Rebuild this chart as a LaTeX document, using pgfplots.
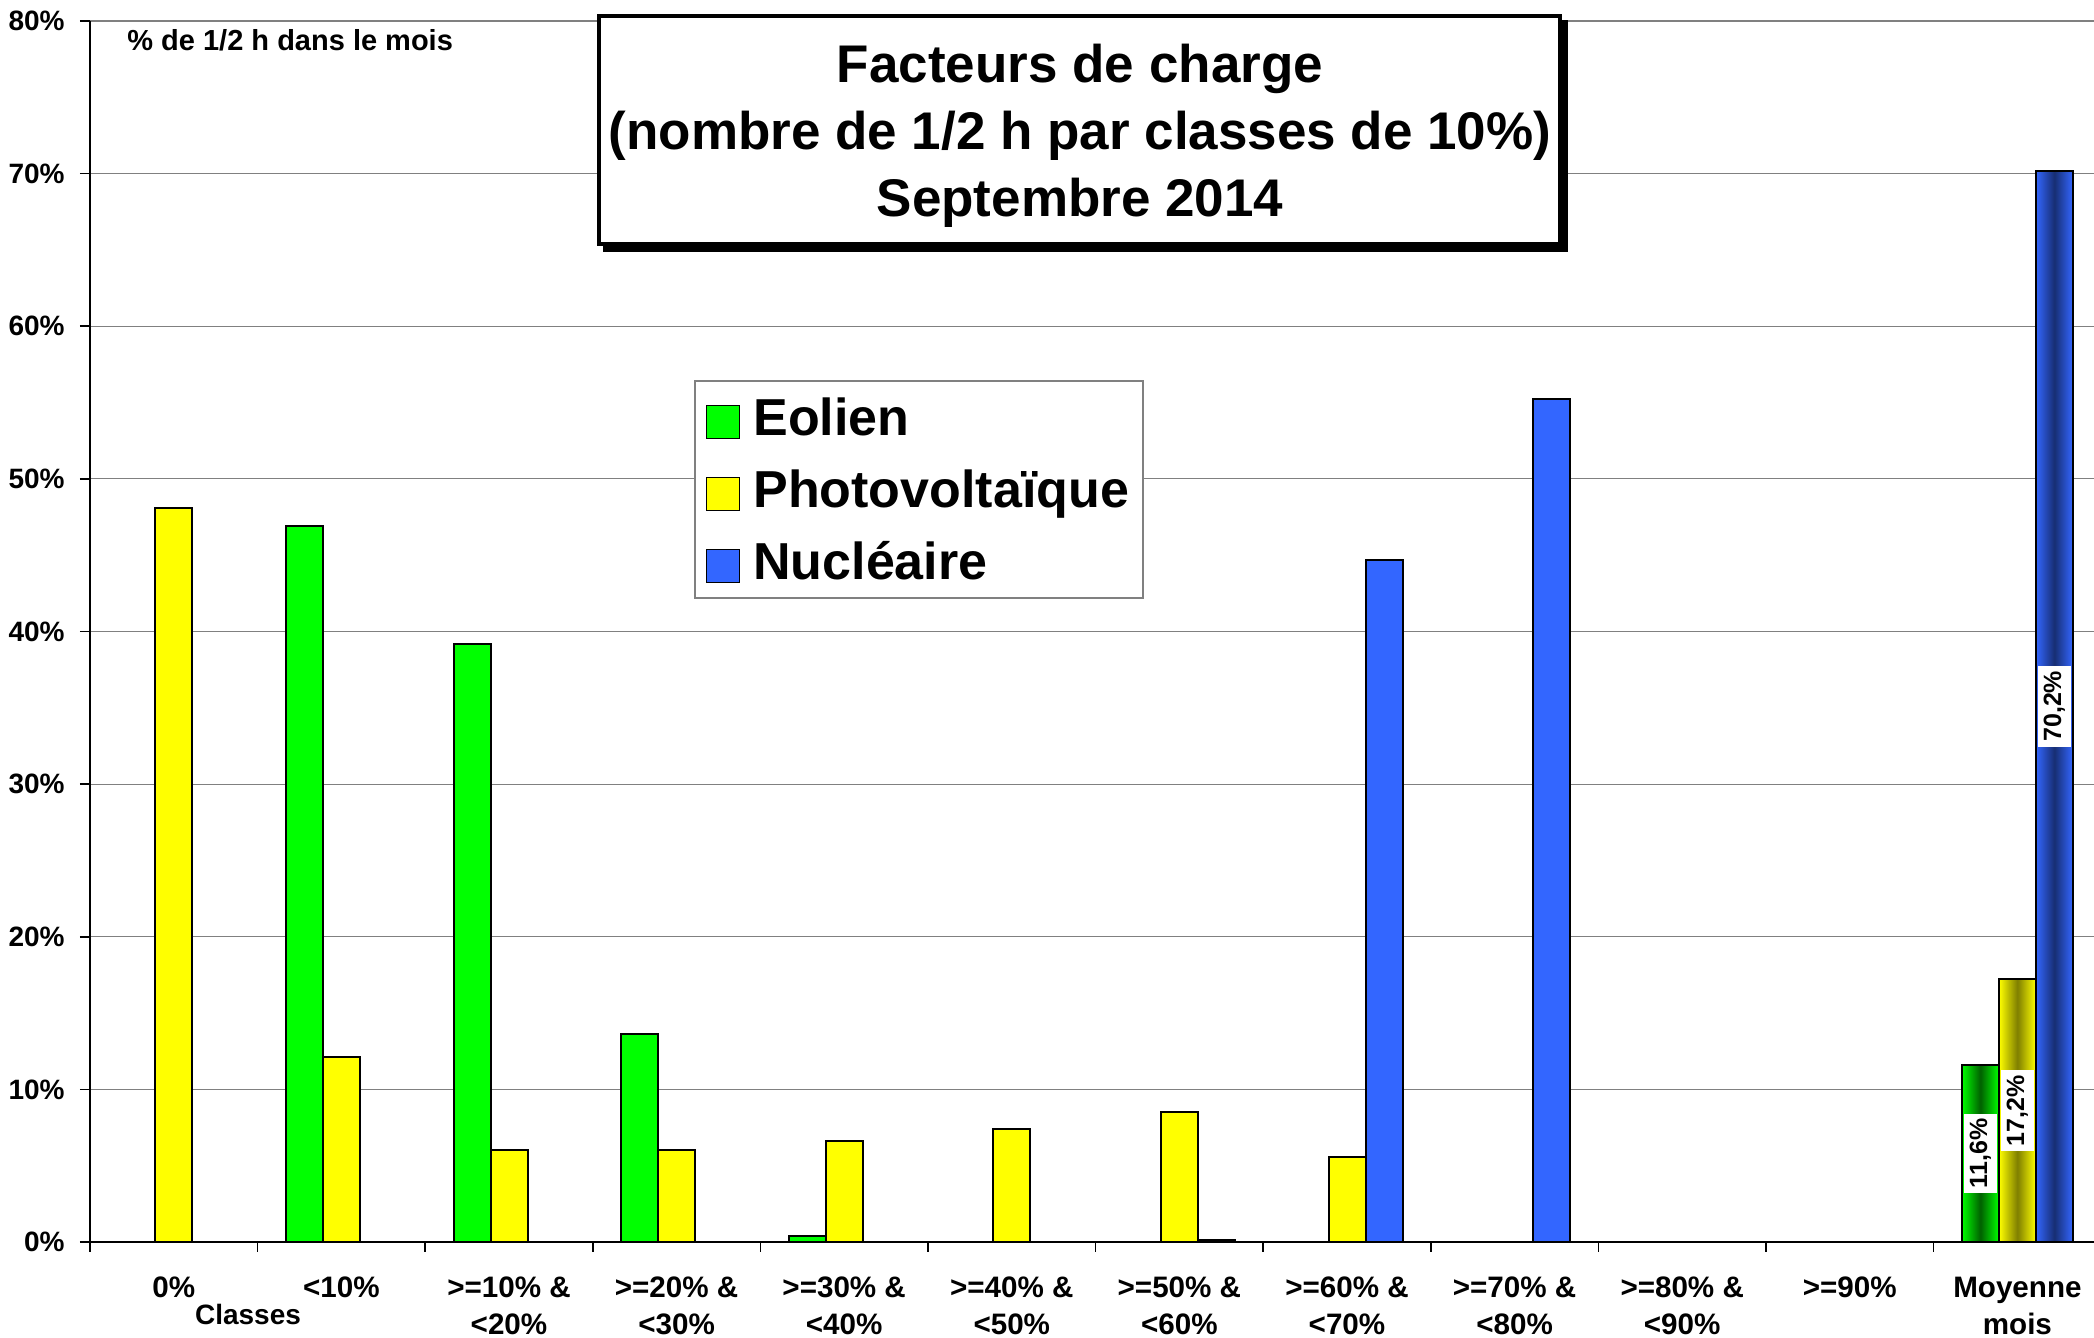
\documentclass[border=0pt]{standalone}
\usepackage{pgfplots}
\pgfplotsset{compat=1.18}
\usepackage{fontspec}
\setmainfont{Liberation Sans}
\definecolor{eol}{HTML}{00FF00}
\definecolor{pv}{HTML}{FFFF00}
\definecolor{nuc}{HTML}{3366FF}
\definecolor{gridc}{HTML}{808080}
\pgfplotsset{
  mybar/.style={ybar, bar width=18.5pt, draw=black, line width=1pt,
    /pgfplots/legend image code/.code={\draw[##1,/tikz/.cd,line width=0.8pt] (0pt,-10.7pt) rectangle (16.5pt,5.8pt);}},
}
\begin{document}
\begin{tikzpicture}
\begin{axis}[
  scale only axis, width=1005.6pt, height=610.5pt,
  xmin=-0.5, xmax=11.5, ymin=0, ymax=80,
  clip=false,
  axis lines*=left,
  axis line style={-, line width=0.8pt, black},
  tick align=outside, major tick length=5pt,
  tick style={black, line width=0.8pt},
  xtick={-0.5,0.5,1.5,2.5,3.5,4.5,5.5,6.5,7.5,8.5,9.5,10.5,11.5},
  x tick label as interval,
  xticklabels={0\%,<10\%,{>=10\% \&\\<20\%},{>=20\% \&\\<30\%},{>=30\% \&\\<40\%},{>=40\% \&\\<50\%},{>=50\% \&\\<60\%},{>=60\% \&\\<70\%},{>=70\% \&\\<80\%},{>=80\% \&\\<90\%},>=90\%,{Moyenne\\mois}},
  xticklabel style={align=center, anchor=north, inner sep=0pt, font=\fontsize{14.8}{18.5}\selectfont\bfseries, yshift=-12.3pt},
  ytick={0,10,20,30,40,50,60,70,80},
  yticklabels={0\%,10\%,20\%,30\%,40\%,50\%,60\%,70\%,80\%},
  yticklabel style={anchor=east, inner sep=0pt, font=\fontsize{14}{16}\selectfont\bfseries, xshift=-7.5pt},
  ymajorgrids, major grid style={gridc, line width=0.6pt},
  legend style={
    at={(rel axis cs:0.3003,0.7060)}, anchor=north west,
    draw=gridc, line width=0.8pt, fill=white,
    inner xsep=5.5pt, inner ysep=2pt,
    font=\fontsize{26}{30}\selectfont\bfseries,
    nodes={inner sep=1.5pt, text height=24pt, text depth=5.5pt},
    row sep=3.5pt,
    /tikz/every odd column/.append style={column sep=5pt},
  },
  legend cell align=left,
]
\coordinate (O) at (rel axis cs:0,0);
% Eolien
\addplot[mybar, fill=eol, bar shift=-18.5pt] coordinates {(1,46.9) (2,39.2) (3,13.6) (4,0.4)};
% Photovoltaique
\addplot[mybar, fill=pv, bar shift=0pt] coordinates {(0,48.1) (1,12.1) (2,6.0) (3,6.0) (4,6.6) (5,7.4) (6,8.5) (7,5.6)};
% Nucleaire
\addplot[mybar, fill=nuc, bar shift=18.5pt] coordinates {(6,0.1) (7,44.7) (8,55.2)};
\legend{Eolien,Photovoltaïque,Nucléaire}
% Moyenne mois (shaded)
\addplot[mybar, forget plot, left color=eol, right color=eol, middle color=eol!38!black, bar shift=-18.5pt] coordinates {(11,11.6)};
\addplot[mybar, forget plot, left color=pv, right color=pv, middle color=pv!50!black, bar shift=0pt] coordinates {(11,17.2)};
\addplot[mybar, forget plot, left color=nuc, right color=nuc, middle color=nuc!45!black, bar shift=18.5pt] coordinates {(11,70.2)};
\tikzset{dlab/.style={rotate=90, fill=white, inner xsep=2.5pt, inner ysep=3pt, font=\fontsize{12.5}{14}\selectfont\bfseries}}
\node[dlab] at ([xshift=-18.5pt]axis cs:11,5.8) {11,6\%};
\node[dlab] at (axis cs:11,8.6) {17,2\%};
\node[dlab] at ([xshift=18.5pt]axis cs:11,35.1) {70,2\%};
\end{axis}
% title box with shadow
\fill[black] ([shift={(256.5pt,495pt)}]O) rectangle ([shift={(739pt,611pt)}]O);
\draw[black, line width=1.75pt, fill=white] ([shift={(254.4pt,498.9pt)}]O) rectangle ([shift={(735.1pt,613.1pt)}]O);
\node[anchor=base, inner sep=0pt, font=\fontsize{26.5}{33}\selectfont\bfseries] at ([shift={(495pt,579.5pt)}]O) {Facteurs de charge};
\node[anchor=base, inner sep=0pt, font=\fontsize{26.5}{33}\selectfont\bfseries] at ([shift={(495pt,546pt)}]O) {(nombre de 1/2 h par classes de 10\%)};
\node[anchor=base, inner sep=0pt, font=\fontsize{26.5}{33}\selectfont\bfseries] at ([shift={(495pt,512.5pt)}]O) {Septembre 2014};
\node[anchor=base west, inner sep=0pt, font=\fontsize{14.5}{17}\selectfont\bfseries] at ([shift={(18.5pt,595.5pt)}]O) {\% de 1/2 h dans le mois};
\node[anchor=base, inner sep=0pt, font=\fontsize{14}{17}\selectfont\bfseries] at ([shift={(79pt,-41.5pt)}]O) {Classes};
\pgfresetboundingbox
\path[use as bounding box] ([shift={(-45pt,-48pt)}]O) rectangle ([shift={(1002pt,621pt)}]O);
\end{tikzpicture}
\end{document}
